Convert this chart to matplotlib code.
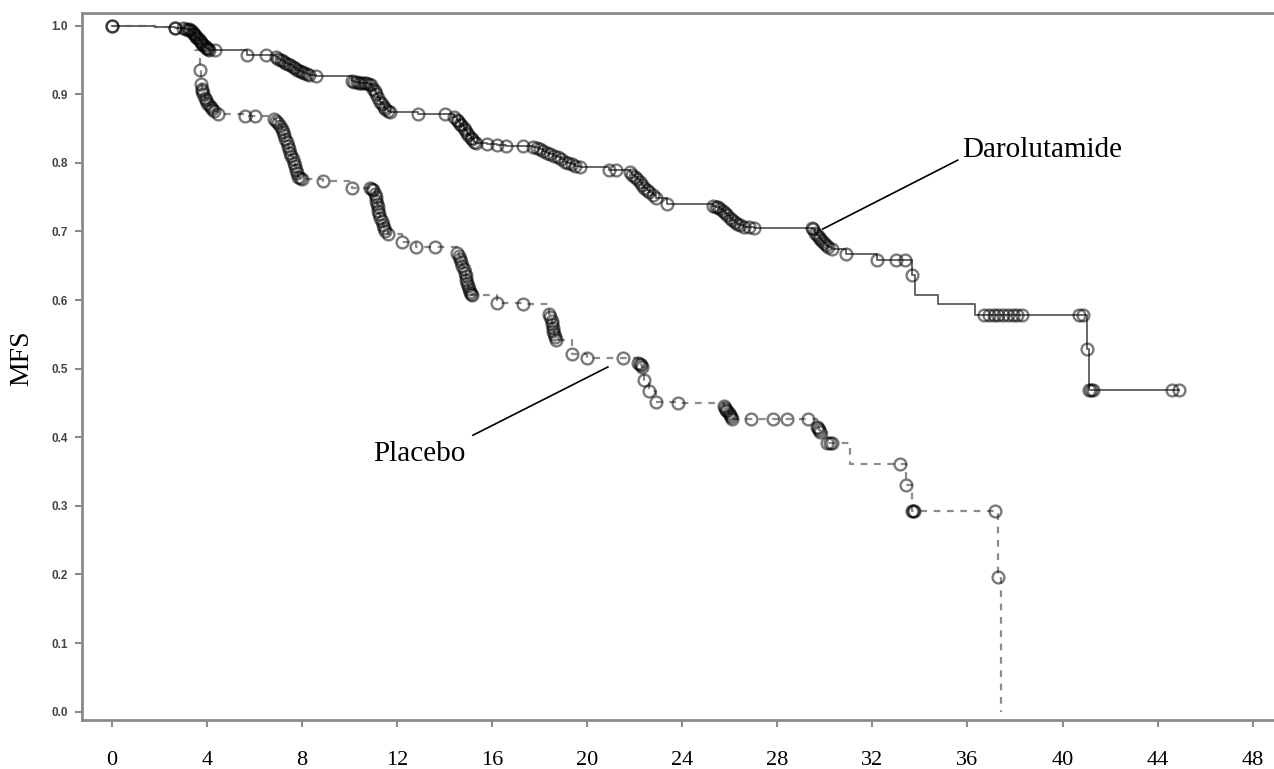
import matplotlib
matplotlib.use("Agg")
import matplotlib.pyplot as plt
import numpy as np

# ---------------- data ----------------
x_ticks = [0, 4, 8, 12, 16, 20, 24, 28, 32, 36, 40, 44, 48]
y_ticks = [0.0, 0.1, 0.2, 0.3, 0.4, 0.5, 0.6, 0.7, 0.8, 0.9, 1.0]

daro_time = [0, 1.8, 2.65, 3.0, 3.1, 3.2, 3.25, 3.3, 3.35, 3.4, 3.45, 3.5, 3.55, 3.6, 3.65,
             3.7, 3.75, 3.8, 3.85, 3.9, 3.95, 4.0, 4.05, 4.1, 4.33, 5.7, 6.5,
             6.9, 7.0, 7.1, 7.2, 7.3, 7.4, 7.5, 7.6, 7.7, 7.8, 7.9, 8.0, 8.1, 8.2, 8.3, 8.6,
             10.1, 10.2, 10.3, 10.4, 10.5, 10.6, 10.7, 10.8, 10.9, 11.0, 11.05, 11.1, 11.2,
             11.3, 11.35, 11.45, 11.5, 11.6, 11.7, 12.9, 14.0,
             14.4, 14.5, 14.55, 14.65, 14.7, 14.8, 14.85, 14.95, 15.0, 15.1, 15.15, 15.25, 15.3,
             15.8, 16.2, 16.6, 17.3, 17.7,
             17.9, 18.0, 18.15, 18.3, 18.45, 18.6, 18.75, 18.9, 19.05, 19.2, 19.35, 19.5, 19.7,
             20.9, 21.2,
             21.8, 21.9, 22.0, 22.1, 22.2, 22.3, 22.4, 22.5, 22.6, 22.75, 22.9, 23.35,
             25.3, 25.4, 25.5, 25.6, 25.7, 25.8, 25.9, 26.0, 26.1, 26.2, 26.3, 26.45, 26.6,
             26.8, 27.0,
             29.45, 29.5, 29.6, 29.65, 29.75, 29.8, 29.9, 29.95, 30.05, 30.15, 30.3, 30.9,
             32.2, 33.0, 33.36, 33.65, 33.8, 34.75, 36.3,
             36.7, 36.9, 37.1, 37.3, 37.5, 37.7, 37.9, 38.1, 38.3,
             40.7, 40.85, 41.05, 41.1, 41.2, 41.3, 44.6, 44.9]
daro_surv = [1.0, 0.998, 0.997, 0.996, 0.995, 0.994, 0.995, 0.994, 0.992, 0.990, 0.988, 0.986,
             0.984, 0.982, 0.980, 0.978, 0.976, 0.974, 0.972, 0.970, 0.968, 0.967, 0.966,
             0.965, 0.964, 0.958, 0.957,
             0.954, 0.952, 0.950, 0.948, 0.946, 0.944, 0.942, 0.940, 0.938, 0.936, 0.934,
             0.932, 0.931, 0.929, 0.928, 0.926,
             0.919, 0.918, 0.918, 0.917, 0.917, 0.916, 0.916, 0.915, 0.914, 0.908, 0.905,
             0.900, 0.895, 0.889, 0.886, 0.881, 0.879, 0.876, 0.874, 0.872, 0.871,
             0.867, 0.863, 0.861, 0.857, 0.855, 0.851, 0.848, 0.844, 0.841, 0.837, 0.835,
             0.831, 0.829,
             0.827, 0.826, 0.825, 0.824, 0.823,
             0.822, 0.820, 0.818, 0.815, 0.813, 0.810, 0.808, 0.805, 0.802, 0.800, 0.798,
             0.796, 0.794,
             0.790, 0.789,
             0.786, 0.783, 0.780, 0.776, 0.772, 0.768, 0.764, 0.760, 0.757, 0.753, 0.749,
             0.740,
             0.737, 0.736, 0.735, 0.733, 0.730, 0.727, 0.724, 0.720, 0.717, 0.714, 0.711,
             0.709, 0.707, 0.706, 0.705,
             0.705, 0.703, 0.698, 0.695, 0.692, 0.689, 0.686, 0.683, 0.680, 0.677, 0.674,
             0.667,
             0.659, 0.659, 0.658, 0.637, 0.608, 0.594, 0.578,
             0.578, 0.578, 0.578, 0.578, 0.578, 0.578, 0.578, 0.578, 0.578,
             0.578, 0.578, 0.529, 0.469, 0.469, 0.469, 0.469, 0.469]
daro_unmarked = [1.8, 33.8, 34.75, 36.3]

plac_time = [0, 1.8, 2.65, 3.3, 3.5,
             3.7, 3.75, 3.78, 3.8, 3.85, 3.9, 3.95, 4.0, 4.08, 4.15, 4.22, 4.3, 4.45,
             5.6, 6.0,
             6.8, 6.9, 7.0, 7.08, 7.15, 7.2, 7.25, 7.3, 7.35, 7.4, 7.45, 7.5, 7.55, 7.6,
             7.65, 7.7, 7.75, 7.8, 7.85, 7.92, 8.0,
             8.9, 10.1,
             10.85, 10.95, 11.0, 11.05, 11.1, 11.12, 11.15, 11.18, 11.2, 11.25, 11.3, 11.35,
             11.4, 11.45, 11.5, 11.6,
             12.2, 12.8, 13.6,
             14.5, 14.6, 14.65, 14.7, 14.75, 14.8, 14.85, 14.88, 14.9, 14.95, 15.0, 15.03,
             15.05, 15.1, 15.15,
             16.2, 17.3,
             18.4, 18.45, 18.5, 18.52, 18.55, 18.58, 18.6, 18.65, 18.7,
             19.35, 20.0, 21.5,
             22.15, 22.2, 22.25, 22.3, 22.4, 22.6, 22.9, 23.8,
             25.75, 25.8, 25.85, 25.9, 25.95, 26.0, 26.05, 26.1,
             26.9, 27.8, 28.4, 29.3,
             29.65, 29.7, 29.75, 29.8, 30.1, 30.2, 30.3, 31.05,
             33.15, 33.4, 33.65, 33.7, 33.75, 37.15, 37.3, 37.4]
plac_surv = [1.0, 0.998, 0.997, 0.99, 0.965,
             0.936, 0.915, 0.908, 0.905, 0.900, 0.895, 0.891, 0.888, 0.885, 0.882, 0.879,
             0.876, 0.872,
             0.868, 0.868,
             0.864, 0.861, 0.858, 0.854, 0.850, 0.845, 0.840, 0.835, 0.830, 0.825, 0.820,
             0.815, 0.810, 0.805, 0.800, 0.795, 0.790, 0.785, 0.780, 0.778, 0.776,
             0.774, 0.764,
             0.764, 0.762, 0.760, 0.755, 0.750, 0.745, 0.740, 0.735, 0.730, 0.725, 0.720,
             0.715, 0.710, 0.705, 0.700, 0.697,
             0.684, 0.677, 0.677,
             0.669, 0.664, 0.660, 0.655, 0.650, 0.645, 0.640, 0.635, 0.630, 0.625, 0.620,
             0.616, 0.612, 0.609, 0.607,
             0.596, 0.595,
             0.580, 0.575, 0.570, 0.565, 0.560, 0.555, 0.550, 0.546, 0.542,
             0.522, 0.515, 0.515,
             0.509, 0.507, 0.505, 0.503, 0.483, 0.468, 0.452, 0.450,
             0.445, 0.443, 0.440, 0.438, 0.435, 0.432, 0.430, 0.427,
             0.427, 0.427, 0.427, 0.427,
             0.415, 0.413, 0.410, 0.408, 0.391, 0.391, 0.391, 0.361,
             0.361, 0.330, 0.292, 0.292, 0.292, 0.292, 0.196, 0.0]
plac_unmarked = [1.8, 3.3, 3.5, 31.05, 37.4]

# label anchor points (data coords)
daro_label = ("Darolutamide", 35.76, 0.809)
daro_leader = ([35.59, 29.91], [0.804, 0.7036])
plac_label = ("Placebo", 10.98, 0.3655)
plac_leader = ([15.19, 20.87], [0.403, 0.5025])

# ---------------- figure ----------------
fig = plt.figure(figsize=(12.74, 7.69), dpi=100)
ax = fig.add_axes([82 / 1274, 1 - 720 / 769, 1 - 82 / 1274, (720 - 13) / 769])

spine_col = "#8a8a8a"

def draw_curve(t, s, unmarked, ls, lc, lw):
    t = np.asarray(t)
    s = np.asarray(s)
    ax.step(t, s, where="post", color=lc, linestyle=ls, linewidth=lw, zorder=2)
    mask = ~np.isin(t, unmarked)
    ax.plot(t[mask], s[mask], linestyle="none", marker="o", markersize=8.5,
            markerfacecolor="none", markeredgecolor=(0, 0, 0, 0.52),
            markeredgewidth=1.7, zorder=3)

draw_curve(plac_time, plac_surv, plac_unmarked, (0, (3, 3)), "#8c8c8c", 1.6)
draw_curve(daro_time, daro_surv, daro_unmarked, "-", "#5a5a5a", 1.3)

ax.set_xlim(-1.26, 48.9)
ax.set_ylim(-0.0121, 1.0185)

ax.set_xticks(x_ticks)
ax.set_xticklabels([str(v) for v in x_ticks], fontfamily="Liberation Serif", fontsize=16)
ax.set_yticks(y_ticks)
ax.set_yticklabels([f"{v:.1f}" for v in y_ticks], fontfamily="Liberation Sans",
                   fontsize=8.5, fontweight="bold", color="#444444")

ax.tick_params(axis="x", length=5, width=1.5, color=spine_col, pad=17)
ax.tick_params(axis="y", length=5, width=1.5, color=spine_col, pad=5)

for side in ["left", "top", "bottom"]:
    ax.spines[side].set_color(spine_col)
    ax.spines[side].set_linewidth(2.0)
ax.spines["right"].set_visible(False)

fig.text(22 / 1274, 1 - 358 / 769, "MFS", fontfamily="Liberation Serif", fontsize=20,
         rotation=90, ha="center", va="center")

ax.plot(*daro_leader, color="black", linewidth=1.2, zorder=4)
ax.plot(*plac_leader, color="black", linewidth=1.2, zorder=4)
ax.text(daro_label[1], daro_label[2], daro_label[0], fontfamily="Liberation Serif",
        fontsize=21, ha="left", va="baseline")
ax.text(plac_label[1], plac_label[2], plac_label[0], fontfamily="Liberation Serif",
        fontsize=21, ha="left", va="baseline")

fig.savefig("out.png", dpi=100)
